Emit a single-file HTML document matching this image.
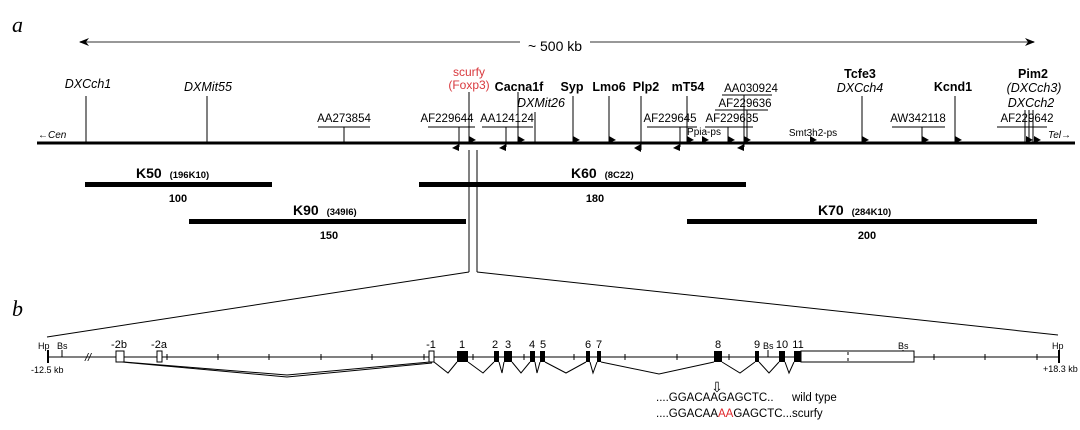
<!DOCTYPE html>
<html><head><meta charset="utf-8"><style>
html,body{margin:0;padding:0;background:#fff;}
svg{display:block;font-family:"Liberation Sans",Arial,sans-serif;}
.m{font-size:11.5px;}
.b{font-size:12.5px;font-weight:bold;}
.i{font-size:12.5px;font-style:italic;}
.s{font-size:10px;}
.x{font-size:9px;}
</style></head><body>
<svg width="1080" height="430" viewBox="0 0 1080 430" xmlns="http://www.w3.org/2000/svg">
<defs>
<marker id="ah" markerWidth="10" markerHeight="8" refX="9" refY="4" orient="auto" markerUnits="userSpaceOnUse"><path d="M0,0 L10,4 L0,8 L3,4 Z" fill="#000"/></marker>
</defs>
<text x="12" y="32" font-family="Liberation Serif,serif" font-style="italic" font-size="22">a</text>
<text x="12" y="316" font-family="Liberation Serif,serif" font-style="italic" font-size="22">b</text>
<line x1="520" y1="42" x2="80" y2="42" stroke="#777" stroke-width="1.5" marker-end="url(#ah)"/>
<line x1="590" y1="42" x2="1034" y2="42" stroke="#777" stroke-width="1.5" marker-end="url(#ah)"/>
<text x="555" y="51" text-anchor="middle" font-size="14">~ 500 kb</text>

<line x1="37" y1="143" x2="1075" y2="143" stroke="#000" stroke-width="3"/>
<text x="38" y="138" class="s" font-style="italic">←Cen</text>
<text x="1048" y="138" class="s" font-style="italic">Tel→</text>

<g stroke="#000" stroke-width="1" fill="none">
<line x1="86" y1="96" x2="86" y2="143"/>
<line x1="207" y1="96" x2="207" y2="143"/>
<line x1="318" y1="127" x2="370" y2="127"/><line x1="344" y1="127" x2="344" y2="143"/>
<line x1="428" y1="127" x2="475" y2="127"/><line x1="459" y1="127" x2="459" y2="147"/>
<line x1="469" y1="92" x2="469" y2="143"/>
<line x1="482" y1="127" x2="533" y2="127"/><line x1="506" y1="127" x2="506" y2="147"/>
<line x1="518" y1="92" x2="518" y2="143"/>
<line x1="535" y1="112" x2="535" y2="143"/>
<line x1="573" y1="96" x2="573" y2="143"/>
<line x1="609" y1="96" x2="609" y2="143"/>
<line x1="641" y1="96" x2="641" y2="150"/>
<line x1="687" y1="96" x2="687" y2="143"/>
<line x1="647" y1="127" x2="697" y2="127"/><line x1="680" y1="127" x2="680" y2="147"/>
<line x1="722" y1="95" x2="772" y2="95"/>
<line x1="715" y1="110" x2="768" y2="110"/>
<line x1="705" y1="127" x2="753" y2="127"/>
<line x1="744" y1="95" x2="744" y2="147"/><line x1="747" y1="110" x2="747" y2="143"/>
<line x1="728" y1="127" x2="728" y2="143"/>
<line x1="862" y1="96" x2="862" y2="143"/>
<line x1="892" y1="127" x2="945" y2="127"/><line x1="922" y1="127" x2="922" y2="143"/>
<line x1="955" y1="96" x2="955" y2="143"/>
<line x1="997" y1="127" x2="1047" y2="127"/>
<line x1="1025" y1="110" x2="1025" y2="143"/><line x1="1029" y1="110" x2="1029" y2="143"/><line x1="1033" y1="110" x2="1033" y2="143"/>
</g>
<g fill="#000">
<path d="M469,136 L476,140 L469,143Z"/>
<path d="M518,136 L525,140 L518,143Z"/>
<path d="M573,136 L580,140 L573,143Z"/>
<path d="M609,136 L616,140 L609,143Z"/>
<path d="M687,136 L694,140 L687,143Z"/>
<path d="M702,136 L709,140 L702,143Z"/>
<path d="M728,136 L735,140 L728,143Z"/>
<path d="M744,136 L751,140 L744,143Z"/>
<path d="M810,136 L817,140 L810,143Z"/>
<path d="M862,136 L869,140 L862,143Z"/>
<path d="M922,136 L929,140 L922,143Z"/>
<path d="M955,136 L962,140 L955,143Z"/>
<path d="M1026,136 L1033,140 L1026,143Z"/>
<path d="M1034,136 L1041,140 L1034,143Z"/>
<path d="M459,144 L452,148 L459,151Z"/>
<path d="M506,144 L499,148 L506,151Z"/>
<path d="M641,144 L634,148 L641,152Z"/>
<path d="M680,144 L673,148 L680,151Z"/>
<path d="M744,144 L737,148 L744,151Z"/>
</g>
<g>
<text x="88" y="88" class="i" text-anchor="middle">DXCch1</text>
<text x="208" y="91" class="i" text-anchor="middle">DXMit55</text>
<text x="344" y="122" class="m" text-anchor="middle">AA273854</text>
<text x="447" y="122" class="m" text-anchor="middle">AF229644</text>
<text x="507" y="122" class="m" text-anchor="middle">AA124124</text>
<text x="469" y="76" font-size="12" fill="#d9393e" text-anchor="middle">scurfy</text>
<text x="469" y="89" font-size="12" fill="#d9393e" text-anchor="middle">(Foxp3)</text>
<text x="519" y="91" class="b" text-anchor="middle">Cacna1f</text>
<text x="541" y="107" class="i" text-anchor="middle">DXMit26</text>
<text x="572" y="91" class="b" text-anchor="middle">Syp</text>
<text x="609" y="91" class="b" text-anchor="middle">Lmo6</text>
<text x="646" y="91" class="b" text-anchor="middle">Plp2</text>
<text x="688" y="91" class="b" text-anchor="middle">mT54</text>
<text x="670" y="122" class="m" text-anchor="middle">AF229645</text>
<text x="751" y="92" class="m" text-anchor="middle">AA030924</text>
<text x="745" y="107" class="m" text-anchor="middle">AF229636</text>
<text x="732" y="122" class="m" text-anchor="middle">AF229635</text>
<text x="704" y="135" class="s" text-anchor="middle">Ppia-ps</text>
<text x="813" y="136" class="s" text-anchor="middle">Smt3h2-ps</text>
<text x="860" y="78" class="b" text-anchor="middle">Tcfe3</text>
<text x="860" y="92" class="i" text-anchor="middle">DXCch4</text>
<text x="918" y="122" class="m" text-anchor="middle">AW342118</text>
<text x="953" y="91" class="b" text-anchor="middle">Kcnd1</text>
<text x="1033" y="78" class="b" text-anchor="middle">Pim2</text>
<text x="1034" y="92" class="i" text-anchor="middle">(DXCch3)</text>
<text x="1031" y="107" class="i" text-anchor="middle">DXCch2</text>
<text x="1027" y="122" class="m" text-anchor="middle">AF229642</text>
</g>

<g fill="#000">
<rect x="85" y="182" width="187" height="5"/>
<rect x="419" y="182" width="327" height="5"/>
<rect x="189" y="219" width="277" height="5"/>
<rect x="687" y="219" width="350" height="5"/>
</g>
<g font-size="14" font-weight="bold">
<text x="136" y="178">K50 <tspan font-size="9.5" dx="4">(196K10)</tspan></text>
<text x="571" y="178">K60 <tspan font-size="9.5" dx="4">(8C22)</tspan></text>
<text x="293" y="215">K90 <tspan font-size="9.5" dx="4">(349I6)</tspan></text>
<text x="818" y="215">K70 <tspan font-size="9.5" dx="4">(284K10)</tspan></text>
</g>
<g font-size="11" font-weight="bold" text-anchor="middle">
<text x="178" y="202">100</text>
<text x="595" y="202">180</text>
<text x="329" y="239">150</text>
<text x="867" y="239">200</text>
</g>

<g stroke="#000" stroke-width="1" fill="none">
<line x1="469" y1="150" x2="469" y2="272"/>
<line x1="477" y1="150" x2="477" y2="272"/>
<line x1="469" y1="272" x2="47" y2="337"/>
<line x1="477" y1="272" x2="1058" y2="335"/>
</g>

<g stroke="#000" stroke-width="1" fill="none">
<line x1="47" y1="357" x2="1059" y2="357"/>
<line x1="48" y1="350" x2="48" y2="363" stroke-width="2"/>
<line x1="1059" y1="350" x2="1059" y2="363" stroke-width="2"/>
<line x1="62" y1="350" x2="62" y2="357"/>
<line x1="768" y1="350" x2="768" y2="357"/>
<line x1="903" y1="350" x2="903" y2="357"/>
<g>
<line x1="167" y1="354" x2="167" y2="360"/><line x1="218" y1="354" x2="218" y2="360"/>
<line x1="269" y1="354" x2="269" y2="360"/><line x1="321" y1="354" x2="321" y2="360"/>
<line x1="372" y1="354" x2="372" y2="360"/><line x1="424" y1="354" x2="424" y2="360"/>
<line x1="473" y1="354" x2="473" y2="360"/><line x1="524" y1="354" x2="524" y2="360"/>
<line x1="574" y1="354" x2="574" y2="360"/><line x1="625" y1="354" x2="625" y2="360"/>
<line x1="677" y1="354" x2="677" y2="360"/><line x1="729" y1="354" x2="729" y2="360"/>
<line x1="934" y1="354" x2="934" y2="360"/><line x1="985" y1="354" x2="985" y2="360"/>
<line x1="1037" y1="354" x2="1037" y2="360"/>
</g>
<rect x="116" y="351" width="8" height="11" fill="#fff"/>
<rect x="157" y="351" width="5" height="11" fill="#fff"/>
<rect x="429" y="351" width="5" height="11" fill="#fff"/>
<rect x="801" y="351" width="113" height="11" fill="#fff"/>
<line x1="848" y1="352" x2="848" y2="355"/><line x1="848" y1="358" x2="848" y2="361"/>
<polyline points="124,362 287,375 430,362"/>
<polyline points="122,362 287,377 432,363"/>
<polyline points="434,362 448,373 457,362"/>
<polyline points="468,362 483,373 494,362"/>
<polyline points="499,362 502,373 504,362"/>
<polyline points="512,362 521,373 530,362"/>
<polyline points="535,362 537,373 540,362"/>
<polyline points="545,362 566,373 586,362"/>
<polyline points="590,362 593,373 597,362"/>
<polyline points="601,362 659,374 714,362"/>
<polyline points="722,362 740,373 755,362"/>
<polyline points="759,362 769,373 779,362"/>
<polyline points="785,362 789,373 794,362"/>
</g>
<text x="85" y="361" font-size="11" font-style="italic">//</text>
<g fill="#000">
<rect x="457" y="351" width="11" height="11"/>
<rect x="494" y="351" width="5" height="11"/>
<rect x="504" y="351" width="8" height="11"/>
<rect x="530" y="351" width="5" height="11"/>
<rect x="540" y="351" width="5" height="11"/>
<rect x="586" y="351" width="4" height="11"/>
<rect x="597" y="351" width="4" height="11"/>
<rect x="714" y="351" width="8" height="11"/>
<rect x="755" y="351" width="4" height="11"/>
<rect x="779" y="351" width="6" height="11"/>
<rect x="794" y="351" width="7" height="11"/>
</g>
<g font-size="11" text-anchor="middle">
<text x="119" y="348">-2b</text><text x="159" y="348">-2a</text>
<text x="431" y="348">-1</text><text x="462" y="348">1</text>
<text x="495" y="348">2</text><text x="508" y="348">3</text>
<text x="532" y="348">4</text><text x="543" y="348">5</text>
<text x="588" y="348">6</text><text x="599" y="348">7</text>
<text x="718" y="348">8</text><text x="757" y="348">9</text>
<text x="782" y="348">10</text><text x="798" y="348">11</text>
</g>
<g class="x" font-size="8.5">
<text x="38" y="349">Hp</text><text x="57" y="349">Bs</text>
<text x="763" y="349">Bs</text><text x="898" y="349">Bs</text>
<text x="1052" y="349">Hp</text>
<text x="31" y="373">-12.5 kb</text>
<text x="1043" y="372">+18.3 kb</text>
</g>
<text x="717" y="392" font-size="14" text-anchor="middle">⇩</text>
<text x="656" y="401" font-size="11.5">....GGACAAGAGCTC..</text>
<text x="656" y="417" font-size="11.5">....GGACAA<tspan fill="#e0262a">AA</tspan>GAGCTC...</text>
<text x="792" y="401" font-size="11.5">wild type</text>
<text x="792" y="417" font-size="11.5">scurfy</text>
</svg>
</body></html>
